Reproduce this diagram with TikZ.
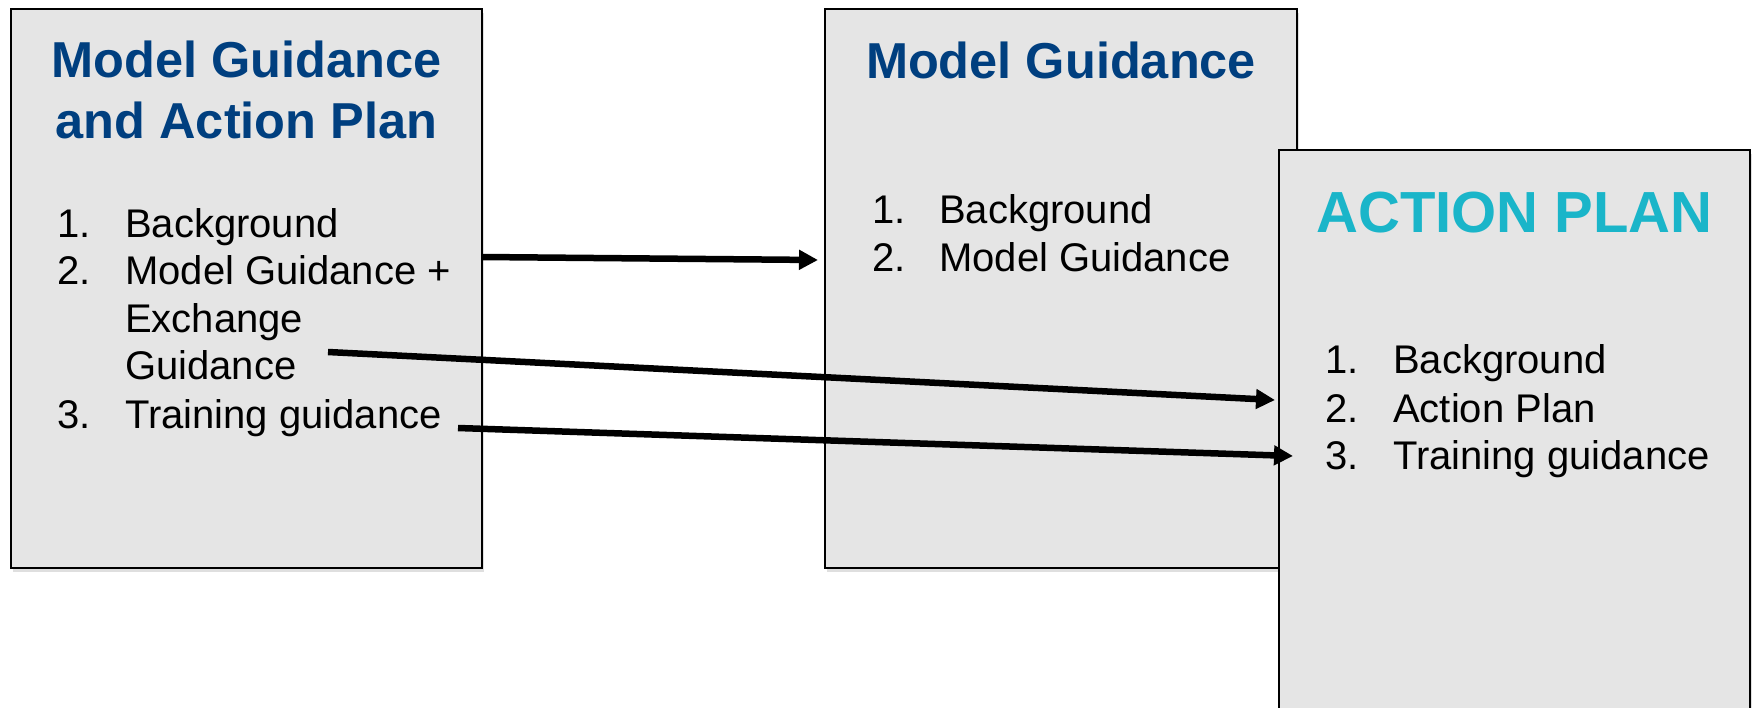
\documentclass[tikz,border=0pt]{standalone}
\usepackage{fontspec}
\setmainfont{Liberation Sans}
\usetikzlibrary{arrows.meta,shadows}
\definecolor{boxgray}{HTML}{E5E5E5}
\definecolor{titleblue}{HTML}{003F7F}
\definecolor{titlecyan}{HTML}{1AB5C9}
\begin{document}
\begin{tikzpicture}[x=1pt,y=-1pt,
  panel/.style={draw=black, line width=2.2pt, fill=boxgray, inner sep=0pt, outer sep=0pt,
    drop shadow={shadow xshift=1.5pt, shadow yshift=-4pt, opacity=0.25}},
  ttl/.style={anchor=base, inner sep=0pt, font=\fontsize{50.5}{61}\selectfont\bfseries, text=titleblue},
  item/.style={anchor=base west, inner sep=0pt, font=\fontsize{40}{48}\selectfont},
  conn/.style={line width=6.5pt, -{Triangle[length=19pt,width=19pt]}}]
\clip (0,0) rectangle (1756,707);
\fill[white] (0,0) rectangle (1756,707);
% boxes
\node[panel, minimum width=471pt, minimum height=559pt] (b1) at (246.5,288.5) {};
\node[panel, minimum width=472pt, minimum height=559pt] (b2) at (1061,288.5) {};
\node[panel, minimum width=471pt, minimum height=570pt] (b3) at (1514.5,435) {};
% titles
\node[ttl] (t1a) at (246.5,77) {Model Guidance};
\node[ttl] (t1b) at (246.5,138) {and Action Plan};
\node[ttl] (t2) at (1061,78) {Model Guidance};
\node[ttl, text=titlecyan, font=\fontsize{58}{70}\selectfont\bfseries] (t3) at (1514.5,232) {ACTION PLAN};
% box 1 list
\node[item] (n11) at (57,237) {1.};
\node[item] (i11) at (125,237) {Background};
\node[item] (n12) at (57,284) {2.};
\node[item] (i12a) at (125,284) {Model Guidance +};
\node[item] (i12b) at (125,332) {Exchange};
\node[item] (i12c) at (125,379) {Guidance};
\node[item] (n13) at (57,428) {3.};
\node[item] (i13) at (125,428) {Training guidance};
% box 2 list
\node[item] (n21) at (872,223) {1.};
\node[item] (i21) at (939,223) {Background};
\node[item] (n22) at (872,271) {2.};
\node[item] (i22) at (939,271) {Model Guidance};
% box 3 list
\node[item] (n31) at (1325,373) {1.};
\node[item] (i31) at (1393,373) {Background};
\node[item] (n32) at (1325,422) {2.};
\node[item] (i32) at (1393,422) {Action Plan};
\node[item] (n33) at (1325,469) {3.};
\node[item] (i33) at (1393,469) {Training guidance};
% connectors
\coordinate (a1s) at (482,257);
\coordinate (a1e) at (818,260);
\coordinate (a2s) at (328,352);
\coordinate (a2e) at (1275,400);
\coordinate (a3s) at (458,428);
\coordinate (a3e) at (1293,456);
\draw[conn] (a1s) -- (a1e);
\draw[conn] (a2s) -- (a2e);
\draw[conn] (a3s) -- (a3e);
\end{tikzpicture}
\end{document}
